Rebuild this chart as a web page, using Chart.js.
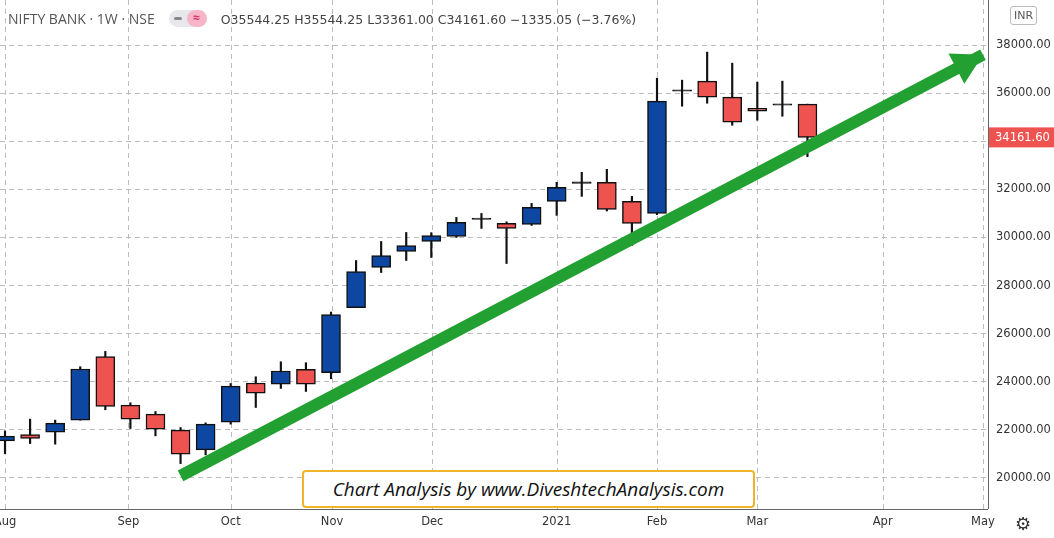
<!DOCTYPE html>
<html><head><meta charset="utf-8">
<script src="https://cdn.jsdelivr.net/npm/chart.js@4"></script>
<style>
html,body{margin:0;padding:0;background:#fff;overflow:hidden}
#wrap{position:relative;width:1054px;height:538px}
#hdr{position:absolute;left:8px;top:9px;font:14px "Open Sans",Roboto,sans-serif;color:#555;white-space:nowrap}
#hdr .v{font:12.5px "DejaVu Sans",sans-serif;color:#444;margin-left:6px}
.tog{display:inline-block;width:38px;height:17px;border-radius:9px;background:#e8e8ec;vertical-align:-3px;margin:0 8px 0 14px;position:relative}
.tog b{position:absolute;right:0;top:0;width:20px;height:17px;border-radius:9px;background:#f7b6c8;color:#d0306a;font-size:12px;text-align:center;line-height:16px}
.tog i{position:absolute;left:5px;top:7px;width:8px;height:3px;background:#888;border-radius:2px}
#inr{position:absolute;left:1010px;top:6px;border:1px solid #bbb;border-radius:3px;font:11px "DejaVu Sans",sans-serif;color:#555;padding:2px 3px}
#lbl{position:absolute;left:302px;top:470px;width:449px;height:34px;border:2px solid #f0b429;border-radius:4px;background:#fff;font:italic 19px "Open Sans",sans-serif;color:#111;text-align:center;line-height:34px}
#gear{position:absolute;left:1015px;top:513px;font:18px "DejaVu Sans";color:#333}
</style></head><body>
<div id="wrap">
<canvas id="c" width="1054" height="538"></canvas>
<div id="hdr">NIFTY BANK · 1W · NSE<span class="tog"><i></i><b>≈</b></span><span class="v">O35544.25 H35544.25 L33361.00 C34161.60 −1335.05 (−3.76%)</span></div>
<div id="inr">INR</div>
<div id="lbl">Chart Analysis by www.DiveshtechAnalysis.com</div>
<div id="gear">⚙</div>
</div>
<script>
const opens  = [21542,21804,21904,22404,25042,23029,22654,21988,21167,22321,23946,23904,24512,24375,27083,28750,29417,29833,30042,30750,30583,30542,31500,32250,32292,31500,31000,36083,36500,35833,35375,35500,35544.25];
const highs  = [21958,22446,22404,24625,25262,23125,22762,22096,22290,23929,24208,24833,24792,26900,29042,29833,30208,30200,30833,31000,30650,31417,32292,32708,32833,31708,36625,36542,37708,37250,36458,36500,35544.25];
const lows   = [21012,21429,21404,22404,22833,22054,21750,20596,20958,22237,22929,23721,23596,24125,27083,28542,29042,29167,30000,30375,28917,30500,30917,31708,31100,29667,30950,35458,35583,34667,34875,35040,33361];
const closes = [21737,21638,22279,24529,22971,22446,22029,20988,22237,23821,23529,24446,23904,26792,28583,29250,29667,30083,30625,30770,30375,31250,32083,32290,31167,30583,35667,36100,35833,34792,35250,35520,34161.6];
const monthLabels = ['Aug','Sep','Oct','Nov','Dec','2021','Feb','Mar','Apr','May'];
const monthPos = [0,4.92,9,13.04,17.04,22,26,30,35,39];
const yTicks = [20000,22000,24000,26000,28000,30000,32000,34000,36000,38000];
const trend = [[7,20083],[39.0,37600]];
const lastPrice = 34161.6;

const BLUE='#0d47a1', RED='#ef5350';
const col = opens.map((o,i)=> closes[i]>o+40?BLUE:(o-closes[i]>40?RED:'#111'));
const bodies = opens.map((o,i)=>{let a=o,b=closes[i]; if(Math.abs(a-b)<60){b=a+60;} return {x:i,y:[a,b]};});
const wicks = opens.map((o,i)=>({x:i,y:[lows[i],highs[i]]}));

const arrow = {id:'arrow',afterDatasetsDraw(ch){
  const {ctx,scales:{x,y}}=ch;
  const x1=x.getPixelForValue(trend[1][0]),y1=y.getPixelForValue(trend[1][1]);
  const x0=x.getPixelForValue(trend[0][0]),y0=y.getPixelForValue(trend[0][1]);
  const ang=Math.atan2(y1-y0,x1-x0);
  ctx.save();ctx.fillStyle='#22a031';ctx.beginPath();
  const L=30,W=17;
  ctx.moveTo(x1,y1);
  ctx.lineTo(x1-L*Math.cos(ang)+W*Math.sin(ang),y1-L*Math.sin(ang)-W*Math.cos(ang));
  ctx.lineTo(x1-L*Math.cos(ang)-W*Math.sin(ang),y1-L*Math.sin(ang)+W*Math.cos(ang));
  ctx.closePath();ctx.fill();
  const py=y.getPixelForValue(lastPrice);
  ctx.fillStyle=RED;ctx.fillRect(x.right+1,py-10,66,20);
  ctx.fillStyle='#fff';ctx.font='11.5px "DejaVu Sans"';ctx.textAlign='left';ctx.textBaseline='middle';
  ctx.fillText(lastPrice.toFixed(2),x.right+7,py+1);
  ctx.fillStyle='#333';ctx.textAlign='center';ctx.textBaseline='middle';
  monthPos.forEach((v,i)=>ctx.fillText(monthLabels[i],x.getPixelForValue(v),522));
  ctx.restore();
}};
const axisLines={id:'axl',beforeDatasetsDraw(ch){const {ctx,chartArea:a,scales:{x}}=ch;ctx.save();
 ctx.strokeStyle='#bdbdbd';ctx.setLineDash([5,4]);ctx.beginPath();
 monthPos.forEach(v=>{const px=Math.round(x.getPixelForValue(v))+0.5;ctx.moveTo(px,a.top);ctx.lineTo(px,a.bottom);});
 ctx.stroke();ctx.setLineDash([]);
 ctx.strokeStyle='#666';ctx.lineWidth=1;
 ctx.beginPath();ctx.moveTo(a.right+0.5,0);ctx.lineTo(a.right+0.5,a.bottom);ctx.moveTo(0,a.bottom+0.5);ctx.lineTo(a.right,a.bottom+0.5);ctx.stroke();ctx.restore();}};

new Chart(document.getElementById('c'),{
  type:'bar',
  data:{datasets:[
    {data:wicks,backgroundColor:'#111',barThickness:1.5,grouped:false,order:2},
    {data:bodies,backgroundColor:col,borderColor:'#111',borderWidth:1.5,borderSkipped:false,barThickness:19,grouped:false,order:1},
    {type:'line',data:trend.map(p=>({x:p[0],y:p[1]})),borderColor:'#22a031',borderWidth:12,pointRadius:0,order:0,borderCapStyle:'butt'}
  ]},
  options:{responsive:false,animation:false,
    layout:{padding:{top:0,bottom:0,left:0,right:0}},
    plugins:{legend:{display:false},tooltip:{enabled:false}},
    scales:{
      x:{type:'linear',min:-0.2,max:39.2,offset:false,
        ticks:{display:false},
        afterFit(ax){ax.height=29;},
        grid:{display:false},border:{display:false}},
      y:{position:'right',min:18708,max:39875,
        afterBuildTicks(ax){ax.ticks=yTicks.map(v=>({value:v}));},
        ticks:{callback:v=>v.toFixed(2),color:'#333',font:{size:11.5,family:'"DejaVu Sans"'},padding:8},
        afterFit(ax){ax.width=66;ax.paddingTop=0;ax.paddingBottom=0;},
        grid:{color:'#bdbdbd',drawTicks:false},border:{display:false,dash:[5,4]}}
    }
  },
  plugins:[arrow,axisLines]
});
</script>
</body></html>
